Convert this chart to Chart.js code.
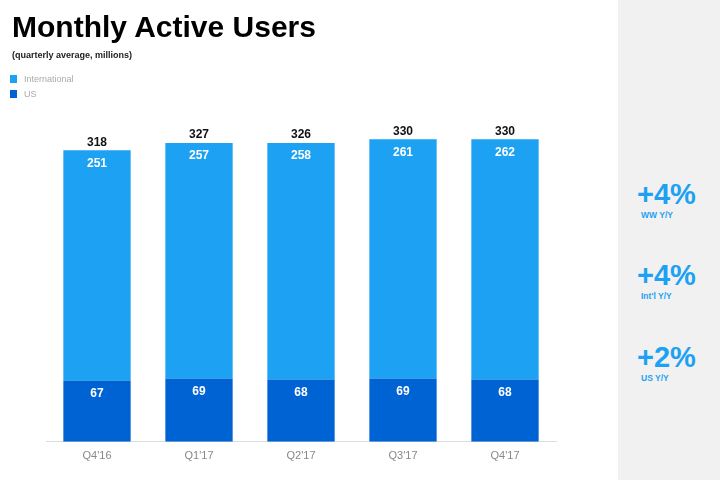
<!DOCTYPE html>
<html>
<head>
<meta charset="utf-8">
<script src="https://cdn.jsdelivr.net/npm/chart.js@4"></script>
<style>
  body { margin: 0; width: 720px; height: 480px; background: #fff; position: relative; overflow: hidden; font-family: "Liberation Sans", Arial, sans-serif; }
  #wrap { position: absolute; left: 0; top: 0; width: 618px; height: 480px; }
  h1 { position: absolute; left: 12px; top: 12px; margin: 0; font-size: 30px; line-height: 30px; font-weight: bold; color: #000; }
  .sub { position: absolute; left: 12px; top: 50px; font-size: 9px; font-weight: bold; color: #222; }
  #legend { position: absolute; left: 10px; top: 73px; font-size: 9px; color: #aaa; }
  #legend div { height: 15px; line-height: 12px; }
  #legend span { display: inline-block; width: 7px; height: 8px; margin-right: 7px; vertical-align: -1px; }
  #side { position: absolute; left: 618px; top: 0; width: 102px; height: 480px; background: #f1f1f1; color: #1da1f2; }
  .big { position: absolute; left: 19px; font-size: 29px; line-height: 28px; font-weight: bold; }
  .small { position: absolute; left: 23px; font-size: 8.5px; line-height: 9px; font-weight: bold; }
</style>
</head>
<body>
<div id="wrap"><canvas id="chart" width="618" height="480"></canvas></div>
<h1>Monthly Active Users</h1>
<div class="sub">(quarterly average, millions)</div>
<div id="legend"></div>
<div id="side"></div>
<script>
const quarters = ["Q4'16", "Q1'17", "Q2'17", "Q3'17", "Q4'17"];
const usUsers = [67, 69, 68, 69, 68];
const intlUsers = [251, 257, 258, 261, 262];
const totalUsers = [318, 327, 326, 330, 330];
const growthValues = ["+4%", "+4%", "+2%"];
const growthLabels = ["WW Y/Y", "Int'l Y/Y", "US Y/Y"];

const intlColor = "#1da1f2";
const usColor = "#0063d3";

// side panel with the year over year figures
const side = document.getElementById('side');
const bigTops = [180, 261, 343];
growthValues.forEach((v, i) => {
    side.innerHTML += `<div class="big" style="top:${bigTops[i]}px">${v}</div>` +
        `<div class="small" style="top:${bigTops[i] + 31}px">${growthLabels[i]}</div>`;
});

const valueLabels = {
    id: 'valueLabels',
    afterDatasetsDraw(chart) {
        const { ctx } = chart;
        ctx.save();
        ctx.textAlign = 'center';
        ctx.textBaseline = 'middle';
        ctx.font = 'bold 12px "Liberation Sans", Arial, sans-serif';
        chart.data.datasets.forEach((ds, di) => {
            chart.getDatasetMeta(di).data.forEach((bar, i) => {
                ctx.fillStyle = '#fff';
                ctx.fillText(ds.data[i], bar.x, bar.y + 13);
            });
        });
        const top = chart.getDatasetMeta(1).data;
        ctx.fillStyle = '#111';
        top.forEach((bar, i) => {
            ctx.fillText(totalUsers[i], bar.x, bar.y - 8);
        });
        ctx.restore();
    }
};

const config = {
    type: 'bar',
    data: {
        labels: quarters,
        datasets: [
            { label: 'US', data: usUsers, backgroundColor: usColor },
            { label: 'International', data: intlUsers, backgroundColor: intlColor }
        ]
    },
    options: {
        responsive: false,
        animation: false,
        layout: { padding: { left: 46, right: 62, top: 121, bottom: 9 } },
        datasets: { bar: { categoryPercentage: 0.66, barPercentage: 1, borderWidth: 0 } },
        scales: {
            x: {
                stacked: true,
                grid: { display: false, drawTicks: false },
                border: { display: true, color: '#dcdcdc' },
                ticks: { padding: 8, color: '#888', font: { size: 11, family: '"Liberation Sans", Arial, sans-serif' } }
            },
            y: { stacked: true, display: false, min: 0, max: 350 }
        },
        plugins: { legend: { display: false }, tooltip: { enabled: false } }
    },
    plugins: [valueLabels]
};

const myChart = new Chart('chart', config);

// legend, international first like the slide
const legend = document.getElementById('legend');
[1, 0].forEach(i => {
    const ds = config.data.datasets[i];
    legend.innerHTML += `<div><span style="background:${ds.backgroundColor}"></span>${ds.label}</div>`;
});
</script>
</body>
</html>
